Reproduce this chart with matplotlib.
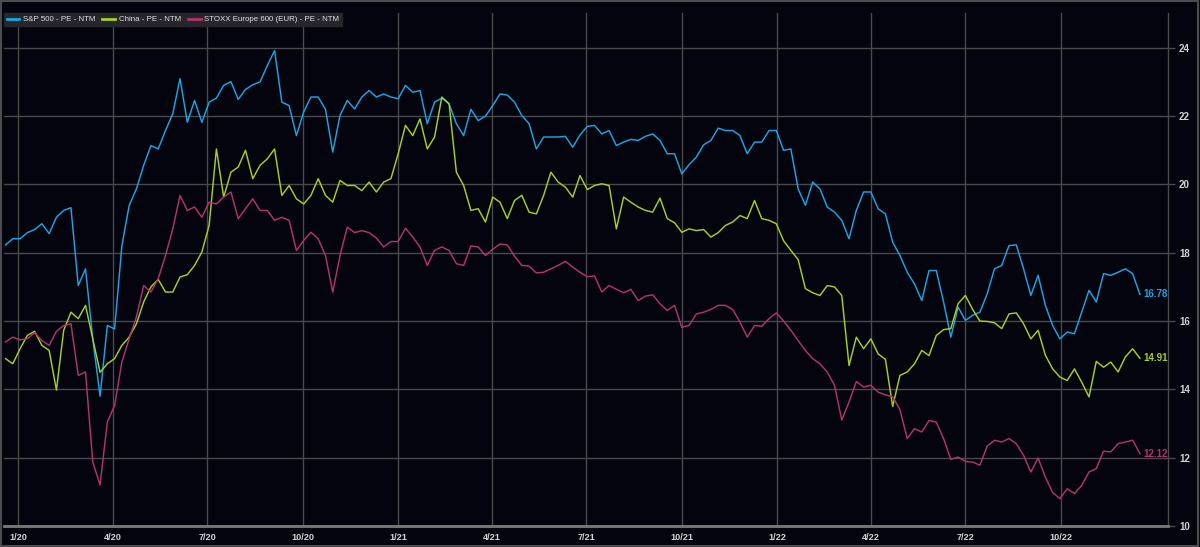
import matplotlib
matplotlib.use("Agg")
import matplotlib.pyplot as plt
import matplotlib.patches as mpatches
import pandas as pd

plt.rcParams['font.family'] = ['Liberation Sans Narrow', 'Liberation Sans', 'DejaVu Sans']

# weekly observations
dates = pd.date_range('2019-12-20', periods=157, freq='7D')

spx_pe = [
    18.23, 18.41, 18.41, 18.59, 18.68, 18.85, 18.56, 19.04, 19.24, 19.32,
    17.04, 17.53, 15.48, 13.8, 15.87, 15.77, 18.2, 19.38, 19.87, 20.56,
    21.14, 21.04, 21.58, 22.07, 23.1, 21.82, 22.46, 21.82, 22.41, 22.53,
    22.9, 23.01, 22.49, 22.78, 22.92, 23.0, 23.48, 23.92, 22.41, 22.31,
    21.43, 22.12, 22.56, 22.56, 22.2, 20.95, 22.02, 22.46, 22.21, 22.56,
    22.75, 22.56, 22.65, 22.56, 22.51, 22.9, 22.7, 22.75, 21.78, 22.41,
    22.53, 22.36, 21.78, 21.43, 22.2, 21.87, 22.0, 22.31, 22.65, 22.62,
    22.41, 22.02, 21.78, 21.04, 21.39, 21.39, 21.39, 21.41, 21.09, 21.45,
    21.7, 21.73, 21.48, 21.58, 21.14, 21.24, 21.32, 21.29, 21.41, 21.48,
    21.29, 20.9, 20.9, 20.31, 20.58, 20.8, 21.16, 21.29, 21.65, 21.58,
    21.58, 21.43, 20.9, 21.24, 21.24, 21.58, 21.58, 21.0, 21.04, 19.87,
    19.39, 20.07, 19.87, 19.34, 19.19, 18.95, 18.41, 19.24, 19.78, 19.78,
    19.29, 19.14, 18.31, 17.92, 17.43, 17.09, 16.6, 17.48, 17.48, 16.56,
    15.53, 16.41, 16.02, 16.17, 16.26, 16.8, 17.53, 17.63, 18.21, 18.23,
    17.53, 16.75, 17.34, 16.46, 15.87, 15.48, 15.68, 15.63, 16.26, 16.9,
    16.56, 17.39, 17.34, 17.43, 17.53, 17.39, 16.78,
]

china_pe = [
    14.9, 14.75, 15.19, 15.58, 15.7, 15.29, 15.14, 13.98, 15.73, 16.26,
    16.07, 16.46, 15.48, 14.5, 14.75, 14.9, 15.29, 15.53, 15.92, 16.56,
    17.0, 17.22, 16.85, 16.85, 17.29, 17.36, 17.63, 18.02, 18.8, 21.04,
    19.63, 20.36, 20.51, 21.0, 20.17, 20.56, 20.75, 21.04, 19.68, 19.97,
    19.58, 19.43, 19.68, 20.17, 19.68, 19.48, 20.12, 19.97, 19.97, 19.82,
    20.07, 19.78, 20.07, 20.17, 20.9, 21.73, 21.43, 21.92, 21.04, 21.39,
    22.56, 22.36, 20.36, 19.97, 19.24, 19.29, 18.9, 19.63, 19.48, 19.0,
    19.53, 19.68, 19.19, 19.14, 19.68, 20.36, 20.07, 19.92, 19.63, 20.26,
    19.85, 19.97, 20.02, 19.97, 18.7, 19.63, 19.48, 19.34, 19.24, 19.19,
    19.6, 19.0, 18.88, 18.6, 18.7, 18.65, 18.68, 18.46, 18.59, 18.8,
    18.9, 19.09, 19.0, 19.53, 19.0, 18.95, 18.85, 18.35, 18.07, 17.8,
    16.95, 16.83, 16.75, 17.04, 17.0, 16.75, 14.7, 15.53, 15.19, 15.48,
    15.04, 14.88, 13.5, 14.41, 14.51, 14.75, 15.14, 14.99, 15.58, 15.75,
    15.78, 16.51, 16.75, 16.34, 16.0, 15.99, 15.95, 15.78, 16.21, 16.24,
    15.92, 15.48, 15.73, 15.0, 14.6, 14.36, 14.26, 14.6, 14.21, 13.78,
    14.82, 14.65, 14.8, 14.51, 14.95, 15.19, 14.91,
]

stoxx_pe = [
    15.39, 15.53, 15.45, 15.48, 15.66, 15.43, 15.29, 15.7, 15.87, 15.92,
    14.41, 14.51, 11.87, 11.2, 13.04, 13.53, 14.8, 15.48, 16.12, 17.04,
    16.85, 17.24, 17.92, 18.7, 19.68, 19.24, 19.34, 19.04, 19.48, 19.43,
    19.63, 19.78, 19.0, 19.29, 19.58, 19.24, 19.24, 18.95, 19.04, 18.95,
    18.07, 18.36, 18.6, 18.41, 17.92, 16.85, 17.92, 18.75, 18.59, 18.65,
    18.59, 18.43, 18.17, 18.33, 18.33, 18.72, 18.46, 18.17, 17.63, 18.07,
    18.17, 18.07, 17.68, 17.63, 18.2, 18.17, 17.92, 18.1, 18.26, 18.23,
    17.9, 17.63, 17.61, 17.41, 17.43, 17.53, 17.63, 17.75, 17.58, 17.43,
    17.3, 17.32, 16.85, 17.04, 16.93, 16.83, 16.93, 16.6, 16.73, 16.77,
    16.51, 16.31, 16.46, 15.82, 15.87, 16.21, 16.26, 16.34, 16.46, 16.46,
    16.34, 15.97, 15.53, 15.87, 15.85, 16.07, 16.24, 16.0, 15.73, 15.43,
    15.14, 14.9, 14.75, 14.51, 14.12, 13.1, 13.63, 14.23, 14.07, 14.12,
    13.92, 13.84, 13.78, 13.41, 12.56, 12.85, 12.75, 13.09, 13.04, 12.56,
    11.95, 12.02, 11.89, 11.87, 11.78, 12.34, 12.51, 12.46, 12.56, 12.41,
    12.07, 11.58, 11.99, 11.43, 10.98, 10.8, 11.09, 10.95, 11.19, 11.58,
    11.68, 12.19, 12.17, 12.41, 12.46, 12.51, 12.12,
]

series_names = ['S&P 500 - PE - NTM', 'China - PE - NTM', 'STOXX Europe 600 (EUR) - PE - NTM']
series_colors = ['#1aa5e4', '#a6d01f', '#b3336c']
series_values = [spx_pe, china_pe, stoxx_pe]

x_tick_dates = pd.date_range('2020-01-01', '2022-10-01', freq='QS')
x_tick_labels = ['1/20', '4/20', '7/20', '10/20', '1/21', '4/21', '7/21',
                 '10/21', '1/22', '4/22', '7/22', '10/22']
y_ticks = [10, 12, 14, 16, 18, 20, 22, 24]

BG = '#04040e'
GRID = '#4a4a4c'
TXT = '#d4d4d4'

fig = plt.figure(figsize=(12, 5.47), dpi=100, facecolor=BG)
ax = fig.add_axes([0.0033, 0.0384, 0.9700, 0.9378], facecolor=BG)

for vals, name, col in zip(series_values, series_names, series_colors):
    ax.plot(dates, vals, color=col, lw=1.05, label=name, solid_joinstyle='round')
    ax.annotate(f'{vals[-1]:.2f}', xy=(dates[-1], vals[-1]), xytext=(2.5, 0),
                textcoords='offset points', va='center', ha='left',
                color=col, fontsize=7, fontweight='bold')

ax.set_xlim(pd.Timestamp('2019-12-18 12:00'), pd.Timestamp('2023-01-12'))
ax.set_ylim(10, 25.02)

ax.set_xticks(x_tick_dates)
ax.set_xticklabels(x_tick_labels, fontweight='bold')
ax.set_yticks(y_ticks)
ax.set_yticklabels([str(v) for v in y_ticks], fontweight='bold')
ax.yaxis.tick_right()
ax.tick_params(axis='x', length=0, pad=5, labelsize=6.6, labelcolor=TXT)
ax.tick_params(axis='y', length=5, width=1, color=GRID, pad=3, labelsize=7,
               labelcolor=TXT, right=True, left=False)

ax.grid(True, color=GRID, lw=1)
ax.set_axisbelow(True)

for s in ['top', 'left']:
    ax.spines[s].set_visible(False)
ax.spines['right'].set_color(GRID)
ax.spines['right'].set_linewidth(1)
ax.spines['bottom'].set_color('#7a7a7a')
ax.spines['bottom'].set_linewidth(2)

leg = ax.legend(loc='upper left', bbox_to_anchor=(0.0, 1.0), ncol=3,
                prop={'size': 5.7},
                frameon=True, facecolor='#26262c', edgecolor='#26262c',
                framealpha=1, handlelength=1.6, handletextpad=0.45,
                columnspacing=0.9, borderpad=0.35, borderaxespad=0.0, fancybox=False)
for t in leg.get_texts():
    t.set_color('#e2e2e2')
for h in leg.get_lines():
    h.set_linewidth(2)

fig.patches.append(mpatches.Rectangle((0.001, 0.002), 0.997, 0.996, transform=fig.transFigure,
                                      fill=False, edgecolor='#4c4c50', lw=1.5))

fig.savefig('out.png', dpi=100, facecolor=BG)
